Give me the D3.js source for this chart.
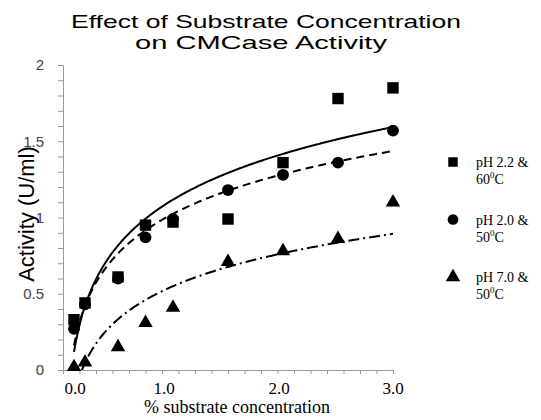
<!DOCTYPE html>
<html>
<head>
<meta charset="utf-8">
<script src="https://cdn.jsdelivr.net/npm/d3@7"></script>
<style>
  body { margin: 0; background: #fff; }
  svg { display: block; }
</style>
</head>
<body>
<svg id="chart"></svg>
<script>
const width = 541;
const height = 420;

// substrate concentration (%)
const conc = [0.1, 0.2, 0.5, 0.75, 1.0, 1.5, 2.0, 2.5, 3.0];
// activity (U/ml) per condition
const actPh22 = [0.33, 0.44, 0.61, 0.95, 0.97, 0.99, 1.36, 1.78, 1.85];
const actPh20 = [0.27, 0.43, 0.60, 0.87, 0.99, 1.18, 1.28, 1.36, 1.57];
const actPh70 = [0.02, 0.05, 0.15, 0.31, 0.41, 0.71, 0.78, 0.86, 1.10];

const seriesNames = ["pH 2.2 &", "pH 2.0 &", "pH 7.0 &"];
const seriesTemps = ["60", "50", "50"];
const yTickLabels = ["0", "0.5", "1", "1.5", "2"];
const xTickLabels = ["0.0", "1.0", "2.0", "3.0"];

const series = [
  { name: seriesNames[0], temp: seriesTemps[0], values: actPh22, symbol: d3.symbolSquare, size: 130, dash: null },
  { name: seriesNames[1], temp: seriesTemps[1], values: actPh20, symbol: d3.symbolCircle, size: 110, dash: "8,5" },
  { name: seriesNames[2], temp: seriesTemps[2], values: actPh70, symbol: d3.symbolTriangle, size: 90, dash: "11,4,2,4" }
];

const svg = d3.select("#chart").attr("width", width).attr("height", height);

const x = d3.scaleLinear().domain([0, 3]).range([63, 393]);
const y = d3.scaleLinear().domain([0, 2]).range([370, 65]);

// titre (étiré comme dans l'original)
svg.append("text")
  .attr("x", 266).attr("y", 28)
  .attr("text-anchor", "middle")
  .attr("textLength", 390)
  .attr("lengthAdjust", "spacingAndGlyphs")
  .style("font", "19px 'Liberation Sans', Arial, sans-serif")
  .text("Effect of Substrate Concentration");
svg.append("text")
  .attr("x", 261).attr("y", 49)
  .attr("text-anchor", "middle")
  .attr("textLength", 252)
  .attr("lengthAdjust", "spacingAndGlyphs")
  .style("font", "19px 'Liberation Sans', Arial, sans-serif")
  .text("on CMCase Activity");

// axe Y
const yAxis = d3.axisLeft(y)
  .tickValues(d3.range(0, 2.0001, 0.1))
  .tickSize(5)
  .tickFormat(d => {
    const i = Math.round(d * 10);
    return i % 5 === 0 ? yTickLabels[i / 5] : "";
  });
const gy = svg.append("g").attr("transform", `translate(${x(0)},0)`).call(yAxis);
gy.select(".domain").attr("stroke", "#999");
gy.selectAll(".tick line").attr("stroke", "#999");
gy.selectAll(".tick text")
  .attr("x", -19)
  .attr("fill", "#444")
  .style("font", "15px 'Liberation Sans', Arial, sans-serif");

// axe X
const xAxis = d3.axisBottom(x)
  .tickValues(d3.range(0, 3.0001, 0.15))
  .tickSize(4)
  .tickSizeOuter(0)
  .tickFormat("");
const gx = svg.append("g").attr("transform", `translate(0,${y(0)})`).call(xAxis);
gx.select(".domain").attr("stroke", "#999");
gx.selectAll(".tick line").attr("stroke", "#999");

const labelShift = [12, -9, -4, 0];
svg.append("g").selectAll("text")
  .data(xTickLabels)
  .join("text")
  .attr("x", (d, i) => x(i) + labelShift[i])
  .attr("y", 394)
  .attr("text-anchor", "middle")
  .style("font", "17px 'Liberation Serif', 'Times New Roman', serif")
  .text(d => d);

svg.append("text")
  .attr("x", 237).attr("y", 413)
  .attr("text-anchor", "middle")
  .style("font", "18px 'Liberation Serif', 'Times New Roman', serif")
  .text("% substrate concentration");

svg.append("text")
  .attr("transform", "translate(34,214) rotate(-90)")
  .attr("text-anchor", "middle")
  .style("font", "22px 'Liberation Sans', Arial, sans-serif")
  .text("Activity (U/ml)");

// courbes de tendance logarithmiques (moindres carrés, comme Excel)
function logFit(xs, ys) {
  const lx = xs.map(Math.log);
  const mx = d3.mean(lx), my = d3.mean(ys);
  const sxy = d3.sum(lx, (v, i) => (v - mx) * (ys[i] - my));
  const sxx = d3.sum(lx, v => (v - mx) * (v - mx));
  const a = sxy / sxx;
  return { a: a, b: my - a * mx };
}

svg.append("clipPath").attr("id", "plot-clip")
  .append("rect")
  .attr("x", x(0)).attr("y", y(2))
  .attr("width", x(3) - x(0)).attr("height", y(0) - y(2));

const line = d3.line().x(d => x(d[0])).y(d => y(d[1]));
const xmin = d3.min(conc), xmax = d3.max(conc);
const samples = d3.range(0, 201).map(i => xmin + (xmax - xmin) * i / 200);

series.forEach(s => {
  const fit = logFit(conc, s.values);
  svg.append("path")
    .attr("clip-path", "url(#plot-clip)")
    .attr("d", line(samples.map(v => [v, fit.a * Math.log(v) + fit.b])))
    .attr("fill", "none")
    .attr("stroke", "#000")
    .attr("stroke-width", 2)
    .attr("stroke-dasharray", s.dash);
});

// points
series.forEach(s => {
  svg.append("g").selectAll("path")
    .data(s.values)
    .join("path")
    .attr("transform", (d, i) => `translate(${x(conc[i])},${y(d)})`)
    .attr("d", d3.symbol().type(s.symbol).size(s.size))
    .attr("fill", "#000");
});

// légende
const legend = svg.append("g");
series.forEach((s, i) => {
  const cy = 162 + i * 57.5;
  legend.append("path")
    .attr("transform", `translate(453,${cy})`)
    .attr("d", d3.symbol().type(s.symbol).size(90))
    .attr("fill", "#000");
  legend.append("text")
    .attr("x", 476).attr("y", cy + 5)
    .style("font", "14px 'Liberation Serif', 'Times New Roman', serif")
    .text(s.name);
  const t = legend.append("text")
    .attr("x", 476).attr("y", cy + 22)
    .style("font", "14px 'Liberation Serif', 'Times New Roman', serif");
  t.append("tspan").text(s.temp);
  t.append("tspan").attr("dy", -6).style("font-size", "9px").text("0");
  t.append("tspan").attr("dy", 6).text("C");
});
</script>
</body>
</html>
